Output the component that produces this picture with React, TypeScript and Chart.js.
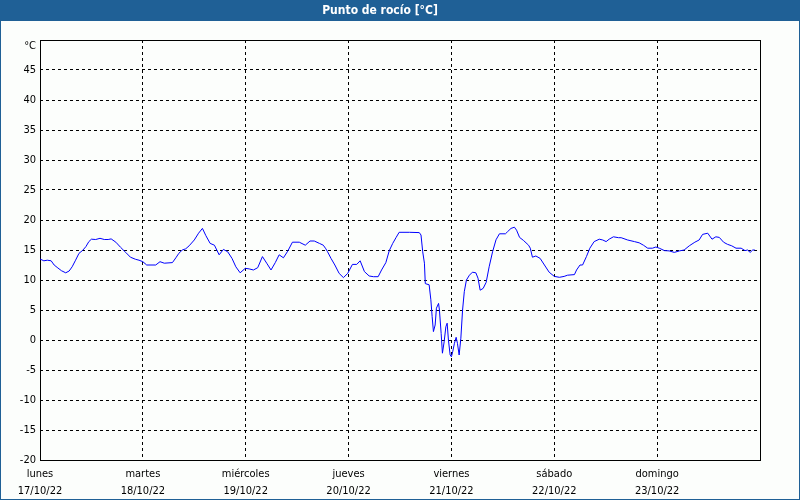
import React, { useEffect, useRef } from 'react';
import { Chart, registerables } from 'chart.js';

Chart.register(...registerables);

// Hours since Monday 17/10/22 00:00
const hours = [
  0, 0.9, 1.7, 2.6, 3.3, 4.0, 5.0, 6.0, 6.8, 7.5, 8.3, 9.1, 9.9, 10.7, 11.4, 12.0, 13.0, 14.0, 15.0, 15.9,
  16.6, 17.7, 18.8, 20.0, 21.1, 22.3, 23.1, 24.0, 24.9, 27.0, 28.0, 29.0, 30.9, 31.7, 32.4, 33.2, 34.0, 34.8,
  36.0, 37.0, 37.9, 38.7, 39.7, 40.7, 41.8, 42.8, 43.8, 44.8, 45.7, 46.7, 47.9, 48.8, 49.8, 50.8, 51.9, 52.9,
  53.9, 54.9, 55.8, 56.8, 57.8, 58.9, 60.5, 61.9, 63.0, 64.0, 65.2, 66.1, 66.7, 67.1, 67.9, 68.8, 69.8, 70.8,
  71.8, 72.9, 73.9, 74.7, 75.7, 76.8, 77.8, 78.9, 79.7, 80.7, 81.5, 82.3, 83.1, 83.8, 86.2, 88.5, 88.9, 89.3,
  89.7, 89.9, 90.8, 91.2, 91.5, 91.8, 92.2, 92.5, 93.0, 93.2, 93.6, 93.9, 94.3, 94.7, 95.0, 95.3, 95.7, 96.0,
  96.3, 96.7, 97.1, 97.4, 97.8, 98.2, 98.6, 99.0, 99.5, 100.2, 100.9, 101.7, 102.2, 102.7, 103.4, 104.1, 104.8,
  105.6, 106.4, 107.2, 108.6, 109.1, 109.9, 110.7, 111.2, 111.9, 112.8, 114.0, 114.4, 114.9, 115.7, 116.7,
  117.7, 118.8, 120.0, 121.2, 122.3, 123.1, 124.7, 125.2, 126.0, 126.6, 127.5, 128.3, 129.3, 130.5, 131.3,
  132.1, 132.8, 133.8, 135.0, 135.6, 137.1, 138.7, 139.8, 140.8, 141.8, 142.9, 143.7, 144.5, 145.7, 146.8,
  148.0, 149.2, 150.3, 151.5, 152.8, 153.8, 154.6, 155.8, 156.8, 157.7, 158.5, 159.5, 160.4, 161.4, 162.4,
  163.6, 164.5, 165.1, 165.7, 166.3, 166.8,
];

// Dew point [°C]
const dewPoint = [
  13.5, 13.2, 13.3, 13.2, 12.5, 12.1, 11.55, 11.2, 11.5, 12.2, 13.3, 14.45, 14.9, 15.55, 16.4, 16.8, 16.75, 16.95, 16.75, 16.75,
  16.85, 16.3, 15.45, 14.6, 13.8, 13.45, 13.3, 13.05, 12.5, 12.5, 13.05, 12.8, 12.9, 13.7, 14.45, 15.0, 15.2, 15.7,
  16.67, 17.8, 18.6, 17.4, 16.1, 15.8, 14.2, 15.1, 14.7, 13.6, 12.2, 11.2, 11.95, 11.85, 11.67, 12.05, 13.9, 12.8,
  11.67, 12.9, 14.2, 13.7, 14.8, 16.3, 16.3, 15.8, 16.5, 16.5, 16.1, 15.8, 15.2, 14.7, 13.6, 12.5, 11.1, 10.4,
  11.1, 12.6, 12.6, 13.2, 11.4, 10.67, 10.55, 10.55, 11.67, 12.9, 14.9, 16.1, 17.1, 17.95, 17.95, 17.9, 17.5, 14.7,
  12.8, 9.4, 9.2, 6.7, 3.9, 1.4, 2.5, 5.3, 6.1, 5.0, 1.1, -2.2, -0.3, 2.2, 2.8, 0.0, -2.5, -2.8,
  -1.95, -0.55, 0.45, -0.55, -2.5, 0.3, 5.0, 8.05, 10.0, 10.8, 11.3, 11.2, 10.3, 8.3, 8.6, 9.6, 12.2,
  14.7, 16.7, 17.7, 17.7, 18.05, 18.6, 18.8, 18.3, 17.1, 16.6, 15.8, 15.3, 13.8, 14.0, 13.6,
  12.5, 11.3, 10.6, 10.45, 10.6, 10.8, 10.9, 11.67, 12.5, 12.5, 13.9, 15.3, 16.4, 16.8, 16.67,
  16.4, 16.8, 17.2, 17.05, 17.05, 16.67, 16.4, 16.2, 15.8, 15.3, 15.3, 15.5, 15.3, 14.9, 14.85,
  14.6, 14.85, 15.0, 15.7, 16.3, 16.67, 17.6, 17.8, 16.8, 17.2, 17.1, 16.3, 15.95, 15.7, 15.3,
  15.3, 14.9, 15.0, 14.6, 15.0, 15.0,
];

const dayNames = ['lunes', 'martes', 'miércoles', 'jueves', 'viernes', 'sábado', 'domingo'];
const dayDates = ['17/10/22', '18/10/22', '19/10/22', '20/10/22', '21/10/22', '22/10/22', '23/10/22'];

const titleText = 'Punto de rocío [°C]';
const unitLabel = '°C';

const FONT = '"DejaVu Sans Condensed", "Liberation Sans", sans-serif';
const HEADER_BLUE = 'rgb(31, 96, 150)';

const framePlugin = {
  id: 'framePlugin',
  beforeDraw(chart: any) {
    const { ctx, width, height } = chart;
    ctx.save();
    ctx.fillStyle = '#fcfefc';
    ctx.fillRect(0, 0, width, height);
    ctx.fillStyle = HEADER_BLUE;
    ctx.fillRect(0, 0, width, 21);
    ctx.strokeStyle = HEADER_BLUE;
    ctx.lineWidth = 1;
    ctx.strokeRect(0.5, 0.5, width - 1, height - 1);
    ctx.restore();
  },
  beforeDatasetsDraw(chart: any) {
    const { ctx, chartArea } = chart;
    ctx.save();
    ctx.strokeStyle = '#000';
    ctx.lineWidth = 1;
    ctx.setLineDash([]);
    ctx.strokeRect(
      Math.round(chartArea.left) + 0.5,
      Math.round(chartArea.top) + 0.5,
      Math.round(chartArea.right - chartArea.left),
      Math.round(chartArea.bottom - chartArea.top)
    );
    ctx.restore();
  },
};

export default function App() {
  const canvasRef = useRef<HTMLCanvasElement | null>(null);

  useEffect(() => {
    if (!canvasRef.current) return;
    const chart = new Chart(canvasRef.current, {
      type: 'line',
      data: {
        datasets: [
          {
            label: titleText,
            data: hours.map((h, i) => ({ x: h, y: dewPoint[i] })),
            borderColor: '#0000ff',
            borderWidth: 1,
            pointRadius: 0,
            tension: 0,
            fill: false,
          },
        ],
      },
      options: {
        animation: false,
        responsive: false,
        maintainAspectRatio: false,
        layout: { padding: { left: 0, right: 40, top: 0, bottom: 0 } },
        plugins: {
          legend: { display: false },
          tooltip: { enabled: false },
          title: {
            display: true,
            text: titleText,
            color: '#ffffff',
            font: { family: FONT, size: 12, weight: 'bold', lineHeight: 1.2 },
            padding: { top: 4, bottom: 21.6 },
          },
        },
        scales: {
          x: {
            type: 'linear',
            min: 0,
            max: 168,
            border: { display: false, dash: [3, 3] },
            grid: {
              color: '#000',
              lineWidth: 1,
              drawTicks: false,
            },
            ticks: {
              stepSize: 24,
              autoSkip: false,
              maxRotation: 0,
              minRotation: 0,
              padding: 6,
              color: '#000',
              font: { family: FONT, size: 11, lineHeight: '17px' },
              callback: (v: any) => {
                const i = Math.round(Number(v) / 24);
                return i >= 0 && i < dayNames.length ? [dayNames[i], dayDates[i]] : '';
              },
            },
            afterFit: (scale: any) => {
              scale.height = 40;
            },
          },
          y: {
            min: -20,
            max: 50,
            border: { display: false, dash: [3, 3] },
            grid: {
              color: '#000',
              lineWidth: 1,
              drawTicks: false,
            },
            ticks: {
              stepSize: 5,
              padding: 4,
              color: '#000',
              font: { family: FONT, size: 11 },
              callback: (v: any) => (Number(v) === 50 ? ['', unitLabel] : String(v)),
            },
            afterFit: (scale: any) => {
              scale.width = 40;
            },
          },
        },
      },
      plugins: [framePlugin],
    } as any);

    return () => chart.destroy();
  }, []);

  return (
    <div style={{ position: 'fixed', left: 0, top: 0, width: 800, height: 500 }}>
      <canvas ref={canvasRef} width={800} height={500} style={{ width: 800, height: 500, display: 'block' }} />
    </div>
  );
}
